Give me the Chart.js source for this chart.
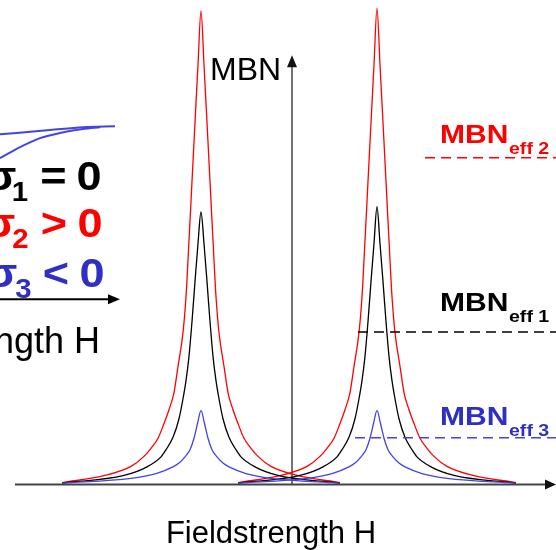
<!DOCTYPE html>
<html>
<head>
<meta charset="utf-8">
<script src="https://cdn.jsdelivr.net/npm/chart.js@4.4.1/dist/chart.umd.min.js"></script>
<style>
  html, body { margin: 0; padding: 0; background: #fff; }
  #wrap { width: 556px; height: 550px; position: relative; }
</style>
</head>
<body>
<div id="wrap"><canvas id="chart"></canvas></div>
<script>
// ── Data (H in arbitrary field units, MBN in % of the tallest peak) ──

// visible window
const H_MIN = -29.2, H_MAX = 26.4;
const MBN_MIN = -13.75, MBN_MAX = 101.7;

// σ1 = 0 (black)
const blackLeftH    = [-23.0, -16.8, -14.5, -13.1, -12.6, -11.9, -11.3, -10.9, -10.6, -10.3, -10.0, -9.7, -9.4, -9.1, -8.8, -8.5, -8.2, -7.9, -7.6, -7.3, -6.9, -6.3, -5.6, -5.1, -3.7, -1.4, 4.8];
const blackLeftMBN  = [0.3, 1.9, 3.7, 5.8, 7.3, 9.9, 13.8, 18.0, 21.8, 26.9, 34.2, 42.6, 50.6, 57.2, 50.6, 42.6, 34.2, 26.9, 21.8, 18.0, 13.8, 9.9, 7.3, 5.8, 3.7, 1.9, 0.3];
const blackRightH   = [-5.4, 0.8, 3.1, 4.5, 5.0, 5.7, 6.3, 6.7, 7.0, 7.3, 7.6, 7.9, 8.2, 8.5, 8.8, 9.1, 9.4, 9.7, 10.0, 10.3, 10.7, 11.3, 12.0, 12.5, 13.9, 16.2, 22.4];
const blackRightMBN = [0.3, 1.9, 3.7, 5.8, 7.3, 9.9, 13.8, 18.0, 21.8, 26.9, 34.2, 42.6, 50.6, 58.3, 50.6, 42.6, 34.2, 26.9, 21.8, 18.0, 13.8, 9.9, 7.3, 5.8, 3.7, 1.9, 0.3];

// σ2 > 0 (red)
const redLeftH    = [-23.0, -18.7, -16.1, -14.8, -14.1, -13.4, -12.8, -12.3, -11.8, -11.4, -10.9, -10.6, -10.3, -10.0, -9.7, -9.4, -9.1, -8.8, -8.5, -8.2, -7.9, -7.6, -7.3, -6.8, -6.4, -5.9, -5.4, -4.8, -4.1, -3.4, -2.1, 0.5, 4.8];
const redLeftMBN  = [0.4, 1.9, 3.8, 5.9, 7.6, 9.7, 12.8, 15.7, 19.3, 24.8, 31.9, 39.4, 51.2, 63.6, 76.0, 88.1, 99.4, 88.1, 76.0, 63.6, 51.2, 39.4, 31.9, 24.8, 19.3, 15.7, 12.8, 9.7, 7.6, 5.9, 3.8, 1.9, 0.4];
const redRightH   = [-5.4, -1.1, 1.5, 2.8, 3.5, 4.2, 4.8, 5.3, 5.8, 6.2, 6.7, 7.0, 7.3, 7.6, 7.9, 8.2, 8.5, 8.8, 9.1, 9.4, 9.7, 10.0, 10.3, 10.8, 11.2, 11.7, 12.2, 12.8, 13.5, 14.2, 15.5, 18.1, 22.4];
const redRightMBN = [0.4, 1.9, 3.8, 5.9, 7.6, 9.7, 12.8, 15.7, 19.3, 24.8, 31.9, 39.4, 51.2, 63.6, 76.0, 88.1, 100, 88.1, 76.0, 63.6, 51.2, 39.4, 31.9, 24.8, 19.3, 15.7, 12.8, 9.7, 7.6, 5.9, 3.8, 1.9, 0.4];

// σ3 < 0 (blue)
const blueLeftH    = [-23.0, -16.1, -13.6, -11.9, -11.3, -10.7, -10.2, -9.8, -9.45, -9.1, -8.75, -8.4, -8.0, -7.5, -6.9, -6.3, -4.6, -2.1, 4.8];
const blueLeftMBN  = [0.3, 1.3, 2.3, 3.7, 4.5, 5.8, 7.3, 9.7, 12.8, 15.5, 12.8, 9.7, 7.3, 5.8, 4.5, 3.7, 2.3, 1.3, 0.3];
const blueRightH   = [-5.4, 1.5, 4.0, 5.7, 6.3, 6.9, 7.4, 7.8, 8.15, 8.5, 8.85, 9.2, 9.6, 10.1, 10.7, 11.3, 13.0, 15.5, 22.4];
const blueRightMBN = [0.3, 1.3, 2.3, 3.7, 4.5, 5.8, 7.3, 9.7, 12.8, 15.5, 12.8, 9.7, 7.3, 5.8, 4.5, 3.7, 2.3, 1.3, 0.3];

// effective MBN levels: [eff 1, eff 2, eff 3] and where each dashed marker starts
const effLevels = [32.0, 68.6, 9.8];
const effStartH = [6.6, 13.3, 6.3];

// cropped inset (magnetisation curve fragment, top left)
const insetUpperH   = [-29.2, -24.2, -20.9, -17.7];
const insetUpperMBN = [73.5, 74.4, 75.0, 75.2];
const insetLowerH   = [-29.2, -27.2, -25.2, -23.2, -20.9, -19.2];
const insetLowerMBN = [68.5, 70.8, 72.7, 73.8, 74.6, 75.0];

// ── Styling ──────────────────────────────────────────────
const RED   = '#ff0000';
const BLACK = '#000000';
const BLUE  = '#4444e0';
const BLUE_TXT = '#2f2fc4';
const FONT  = '"Liberation Sans", Arial, sans-serif';

const pts = (xs, ys) => xs.map((x, i) => ({ x, y: ys[i] }));

function curve(xs, ys, color, width) {
  return {
    data: pts(xs, ys), borderColor: color, borderWidth: width || 1.3,
    cubicInterpolationMode: 'monotone', pointRadius: 0, fill: false,
  };
}

function dashed(level, start, color) {
  return {
    data: pts([start, H_MAX], [level, level]), borderColor: color,
    borderWidth: 1.4, borderDash: [10, 6], pointRadius: 0, fill: false,
  };
}

function txt(ctx, s, x, y, font, color, sx, align) {
  ctx.save();
  ctx.font = font;
  ctx.fillStyle = color;
  ctx.textAlign = align || 'left';
  ctx.textBaseline = 'alphabetic';
  ctx.translate(x, y);
  ctx.scale(sx || 1, 1);
  ctx.fillText(s, 0, 0);
  ctx.restore();
}

function arrowHead(ctx, x, y, dir, len, half) {
  ctx.beginPath();
  if (dir === 'right') {
    ctx.moveTo(x, y); ctx.lineTo(x - len, y - half); ctx.lineTo(x - len, y + half);
  } else {
    ctx.moveTo(x, y); ctx.lineTo(x - half, y + len); ctx.lineTo(x + half, y + len);
  }
  ctx.closePath();
  ctx.fill();
}

// axes drawn underneath the curves
const axesPlugin = {
  id: 'axes',
  beforeDatasetsDraw(chart) {
    const { ctx, scales: { x, y } } = chart;
    const x0 = x.getPixelForValue(0), y0 = y.getPixelForValue(0);
    ctx.save();
    ctx.strokeStyle = '#444'; ctx.fillStyle = '#111';
    // H axis
    ctx.lineWidth = 2;
    ctx.beginPath();
    ctx.moveTo(x.getPixelForValue(-27.7), y0);
    ctx.lineTo(x.getPixelForValue(H_MAX) - 6, y0);
    ctx.stroke();
    arrowHead(ctx, x.getPixelForValue(H_MAX), y0, 'right', 11, 5);
    // MBN axis
    const top = y.getPixelForValue(90.1);
    ctx.lineWidth = 1.5;
    ctx.beginPath();
    ctx.moveTo(x0, y0);
    ctx.lineTo(x0, top + 6);
    ctx.stroke();
    arrowHead(ctx, x0, top, 'up', 12, 5);
    // inset H axis
    const yi = y.getPixelForValue(38.9);
    ctx.strokeStyle = '#000'; ctx.fillStyle = '#000';
    ctx.lineWidth = 2;
    ctx.beginPath();
    ctx.moveTo(x.getPixelForValue(H_MIN), yi);
    ctx.lineTo(x.getPixelForValue(-18.0), yi);
    ctx.stroke();
    arrowHead(ctx, x.getPixelForValue(-17.2), yi, 'right', 12, 5);
    ctx.restore();
  },
  afterDraw(chart) {
    const ctx = chart.ctx;
    // axis captions
    txt(ctx, 'MBN', 210, 80, `32px ${FONT}`, BLACK);
    txt(ctx, 'Fieldstrength H', 271, 543, `31px ${FONT}`, BLACK, 1, 'center');
    txt(ctx, 'Fieldstrength H', 100, 353, `36px ${FONT}`, BLACK, 1, 'right');

    // stress legend of the inset
    const big = `bold 41px ${FONT}`, sub = `bold 28px ${FONT}`;
    const rows = [
      { c: BLACK,    base: 190, s: '1', op: '=', sig: 1, subX: 20,   opX: 53.5, zX: 89 },
      { c: RED,      base: 237, s: '2', op: '>', sig: 0, subX: 20.5, opX: 54,   zX: 90 },
      { c: BLUE_TXT, base: 287, s: '3', op: '<', sig: 2, subX: 23.5, opX: 56,   zX: 92 },
    ];
    rows.forEach(r => {
      txt(ctx, 'σ', r.sig, r.base, big, r.c, 1.1, 'center');
      txt(ctx, r.s, r.subX, r.base + 11, sub, r.c, 1.05, 'center');
      txt(ctx, r.op, r.opX, r.base, big, r.c, 1.1, 'center');
      txt(ctx, '0', r.zX, r.base, big, r.c, 1.1, 'center');
    });

    // effective MBN labels
    const lab = [
      { c: RED,      base: 142.5, n: '2' },
      { c: BLACK,    base: 311,   n: '1' },
      { c: BLUE_TXT, base: 425,   n: '3' },
    ];
    lab.forEach(l => {
      txt(ctx, 'MBN', 440, l.base, `bold 25px ${FONT}`, l.c, 1.2);
      txt(ctx, 'eff ' + l.n, 509, l.base + 11, `bold 17px ${FONT}`, l.c, 1.15);
    });
  },
};

new Chart(document.getElementById('chart'), {
  type: 'line',
  data: {
    datasets: [
      curve(insetUpperH, insetUpperMBN, BLUE, 2),
      curve(insetLowerH, insetLowerMBN, BLUE, 2),
      dashed(effLevels[1], effStartH[1], RED),
      dashed(effLevels[0], effStartH[0], BLACK),
      dashed(effLevels[2], effStartH[2], BLUE),
      curve(blueLeftH, blueLeftMBN, BLUE),
      curve(blueRightH, blueRightMBN, BLUE),
      curve(blackLeftH, blackLeftMBN, BLACK),
      curve(blackRightH, blackRightMBN, BLACK),
      curve(redLeftH, redLeftMBN, RED),
      curve(redRightH, redRightMBN, RED),
    ],
  },
  options: {
    responsive: true,
    maintainAspectRatio: false,
    animation: false,
    layout: { padding: 0 },
    scales: {
      x: { type: 'linear', min: H_MIN, max: H_MAX, display: false },
      y: { type: 'linear', min: MBN_MIN, max: MBN_MAX, display: false },
    },
    plugins: { legend: { display: false }, tooltip: { enabled: false } },
  },
  plugins: [axesPlugin],
});
</script>
</body>
</html>
